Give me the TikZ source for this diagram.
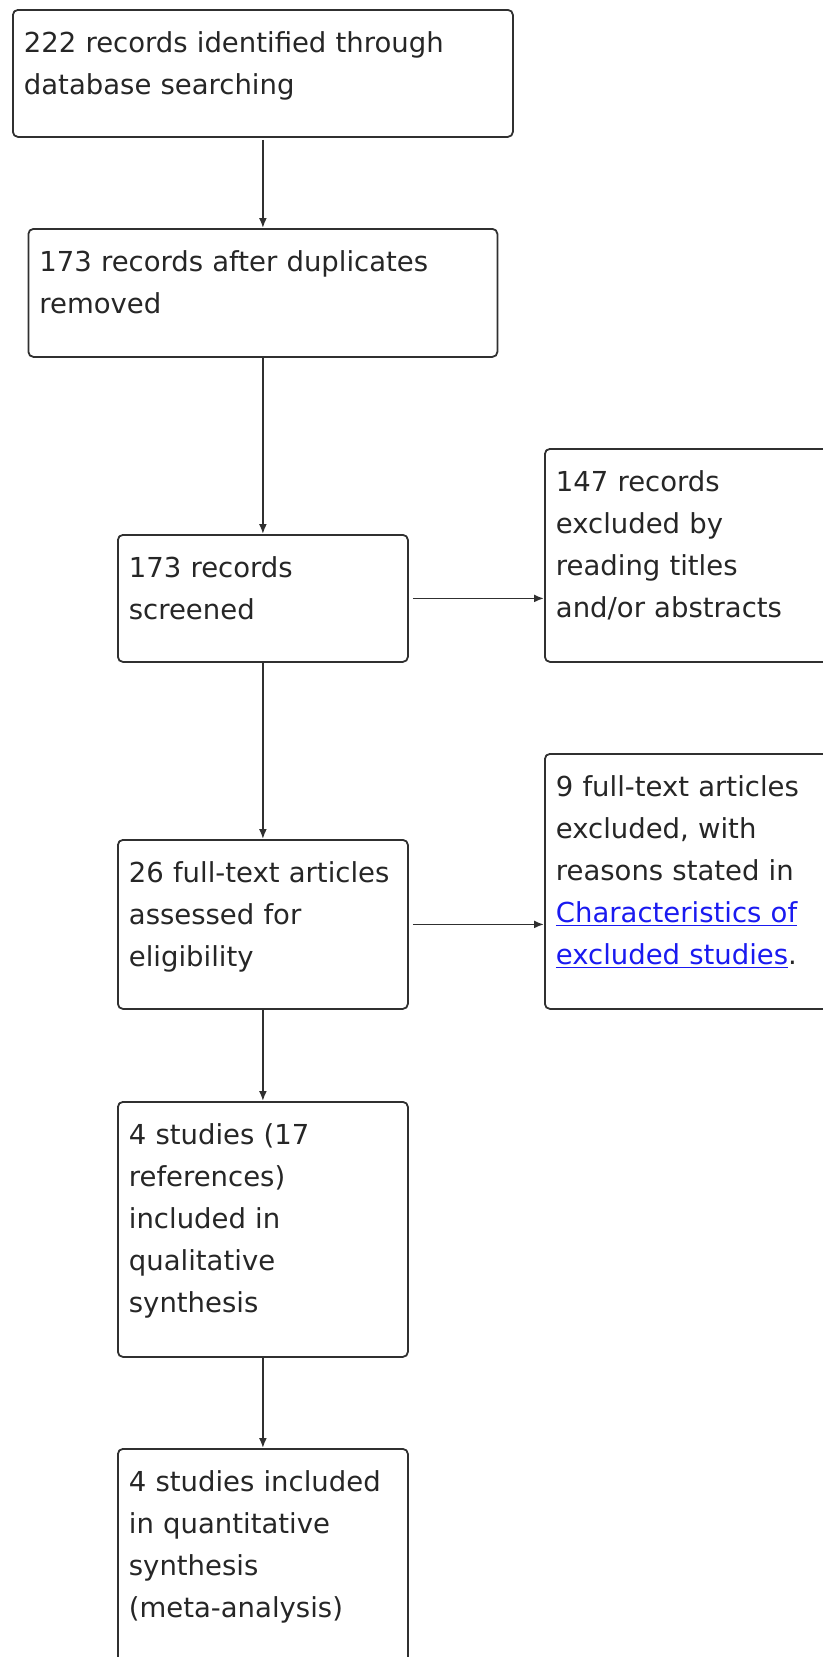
\documentclass[tikz,border=0pt]{standalone}
\usepackage{fontspec}
\setmainfont{DejaVu Sans}
\usetikzlibrary{arrows.meta}
\definecolor{boxgray}{HTML}{303030}
\definecolor{textgray}{HTML}{262626}
\definecolor{linkblue}{HTML}{1A1AF0}
\tikzset{
  rec/.style={draw=boxgray, line width=1.8pt, rounded corners=5pt, anchor=north west,
    align=left, inner xsep=11pt, inner ysep=0pt, text height=43pt, text=textgray,
    font=\fontsize{27.5}{42}\selectfont},
  wide/.style={text width=#1},
  arr/.style={draw=boxgray, line width=1.8pt, -{Latex[length=10pt,width=8pt]}}
}
\newcommand{\reflink}[1]{\textcolor{linkblue}{\underline{#1}}}
\begin{document}
\begin{tikzpicture}
[x=1pt, y=-1pt, line join=round]
\useasboundingbox (0,0) rectangle (822,1657);
% left column
\node[rec, wide=478pt, text depth=84pt] (ident) at (12,9)
  {222 records identified through\\database searching};
\node[rec, wide=447pt, text depth=85pt] (dup) at (27.5,228)
  {173 records after duplicates\\removed};
\node[rec, wide=268pt, text depth=84pt] (screen) at (117,534)
  {173 records\\screened};
\node[rec, wide=268pt, text depth=126pt] (full) at (117,839)
  {26 full-text articles\\assessed for\\eligibility};
\node[rec, wide=268pt, text depth=212pt] (qual) at (117,1101)
  {4 studies (17\\references)\\included in\\qualitative\\synthesis};
\node[rec, wide=268pt, text depth=212pt] (quant) at (117,1448)
  {4 studies included\\in quantitative\\synthesis\\(meta-analysis)};
% right column
\node[rec, wide=268pt, text depth=170pt] (excla) at (544,448)
  {147 records\\excluded by\\reading titles\\and/or abstracts};
\node[rec, wide=268pt, text depth=212pt] (exclb) at (544,753)
  {9 full-text articles\\excluded, with\\reasons stated in\\\reflink{Characteristics of}\\\reflink{excluded studies}.};
% connectors
\draw[arr, shorten <=2pt] (ident) -- (dup);
\draw[arr] (dup) -- (screen);
\draw[arr] (screen) -- (full);
\draw[arr] (full) -- (qual);
\draw[arr] (qual) -- (quant);
\draw[arr] ([xshift=4pt]screen.east) -- (screen.east -| excla.west);
\draw[arr] ([xshift=4pt]full.east) -- (full.east -| exclb.west);
\end{tikzpicture}
\end{document}
